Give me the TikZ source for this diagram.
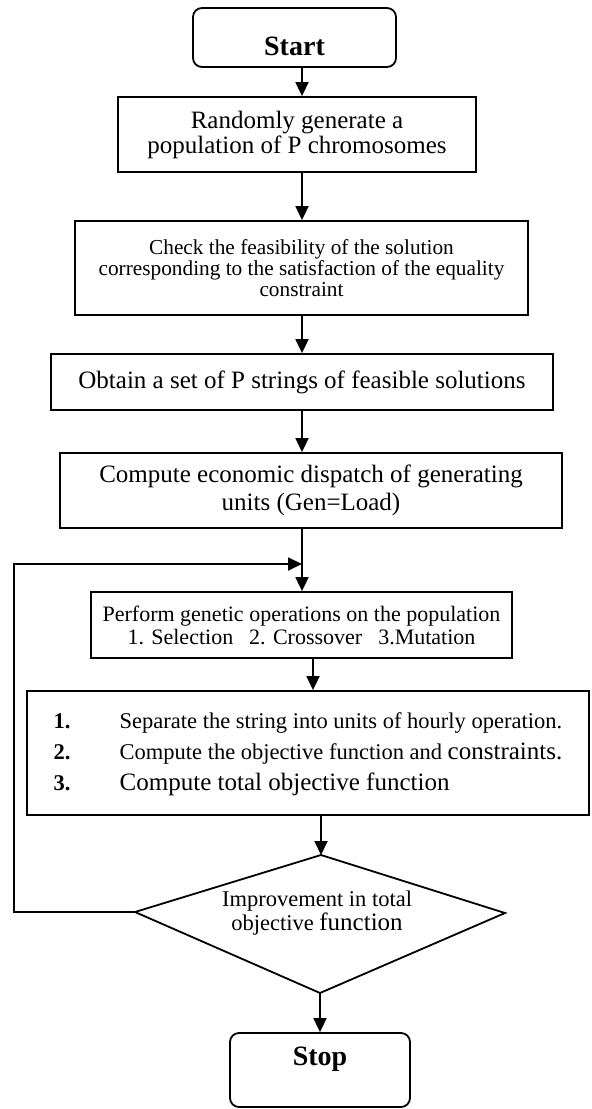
\documentclass[tikz,border=0pt]{standalone}
\usepackage{fontspec}
\setmainfont{Liberation Serif}
\usetikzlibrary{shapes.geometric, arrows.meta}

\tikzstyle{startstop} = [rectangle, rounded corners=9pt, minimum width=203pt, minimum height=59pt, text centered, draw=black, line width=1.8pt, font=\fontsize{28}{30}\selectfont\bfseries]
\tikzstyle{process} = [rectangle, text centered, align=center, draw=black, line width=1.8pt, inner sep=0pt]
\tikzstyle{arrow} = [line width=1.8pt,-{Triangle[width=13pt,length=14pt]}]

\begin{document}
\begin{tikzpicture}[x=1pt, y=-1pt, node distance=100pt]
        \useasboundingbox (0,0) rectangle (592,1109);
        \node (start) [startstop, text height=35pt, text depth=0pt] at (294.5,37.5) {Start};
        \node (rand) [process, below of=start, xshift=2.5pt, yshift=3pt, minimum width=358pt, minimum height=75pt, font=\fontsize{25}{25}\selectfont] {Randomly generate a\\population of P chromosomes};
        \node (check) [process, below of=rand, xshift=4.5pt, yshift=-33.5pt, minimum width=453pt, minimum height=94pt, font=\fontsize{21.3}{21}\selectfont] {Check the feasibility of the solution\\corresponding to the satisfaction of the equality\\constraint};
        \node (obtain) [process, below of=check, xshift=0.5pt, yshift=-14pt, minimum width=502pt, minimum height=56pt, font=\fontsize{25}{26}\selectfont] {Obtain a set of P strings of feasible solutions};
        \node (econ) [process, below of=obtain, xshift=9pt, yshift=-8.5pt, minimum width=502pt, minimum height=75pt, font=\fontsize{25}{28}\selectfont] {Compute economic dispatch of generating\\units (Gen=Load)};
        \node (genetic) [process, below of=econ, xshift=-9.5pt, yshift=-34.5pt, minimum width=421pt, minimum height=66pt, font=\fontsize{22}{23}\selectfont] {Perform genetic operations on the population\\1. Selection\hspace{16pt}2. Crossover\hspace{16pt}3.Mutation};
        \node (compute) [process, below of=genetic, xshift=6.5pt, yshift=-28pt, minimum width=562pt, minimum height=124pt, font=\fontsize{22.5}{31}\selectfont] {\begin{tabular}{@{}p{66pt}@{}l@{}}
            \textbf{1.} & Separate the string into units of hourly operation.\\
            \textbf{2.} & Compute the objective function and {\fontsize{25}{31}\selectfont constraints.}\\
            \textbf{3.} & {\fontsize{25}{31}\selectfont Compute total objective function}
          \end{tabular}};
        \node (decide) [below of=compute, xshift=9pt, yshift=-60pt, align=center, inner sep=0pt, font=\fontsize{22.5}{24}\selectfont] {Improvement in total\\objective {\fontsize{25}{24}\selectfont function}};
        \node (stop) [startstop, below of=decide, xshift=3pt, yshift=-57pt, minimum width=180pt, minimum height=74pt, text height=18pt, text depth=28pt] {Stop};

        % diamond around the decision text
        \coordinate (dtop) at (321,855);
        \coordinate (dright) at (505,913);
        \coordinate (dbot) at (320,993);
        \coordinate (dleft) at (135,912);
        \draw [line width=1.8pt] (dtop) -- (dright) -- (dbot) -- (dleft) -- cycle;

        \coordinate (spine) at (302,0);
        \coordinate (back) at (14,564);

        \draw [arrow] (start.south -| spine) -- (rand.north -| spine);
        \draw [arrow] (rand.south -| spine) -- (check.north -| spine);
        \draw [arrow] (check.south -| spine) -- (obtain.north -| spine);
        \draw [arrow] (obtain.south -| spine) -- (econ.north -| spine);
        \draw [arrow] (econ.south -| spine) -- (genetic.north -| spine);
        \draw [arrow] ([xshift=11.5pt]genetic.south) -- ([xshift=11.5pt]genetic.south |- compute.north);
        \draw [arrow] (compute.south -| dtop) -- (dtop);
        \draw [arrow] (dbot) -- (dbot |- stop.north);
        \draw [arrow] (dleft) -| (back) -- (back -| spine);
    \end{tikzpicture}
\end{document}
